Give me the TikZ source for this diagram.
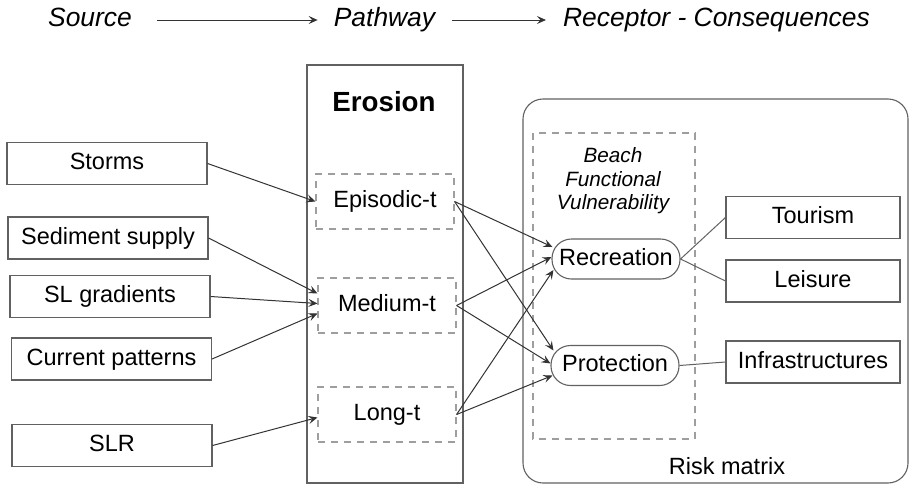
\documentclass[tikz,border=0pt]{standalone}
\usepackage{fontspec}
\setmainfont{Liberation Sans}
\usepackage{tikz}
\usetikzlibrary{arrows.meta}

\colorlet{boxgray}{black!62}
\colorlet{dashgray}{black!38}
\colorlet{arrgray}{black!80}

\tikzset{
	txt/.style={font=\fontsize{23.5}{28}\selectfont, text height=17pt, text depth=5pt, inner sep=0pt},
	srcbox/.style={txt, draw=boxgray, line width=1.1pt, minimum width=200pt, minimum height=42pt},
	termbox/.style={txt, draw=dashgray, line width=1.1pt, dash pattern=on 7pt off 6pt, minimum width=138pt, minimum height=55pt},
	funcpill/.style={txt, draw=boxgray, line width=1.1pt, rounded corners=19.5pt, minimum width=128pt, minimum height=40pt},
	conbox/.style={txt, draw=boxgray, line width=1.1pt, minimum width=174pt, minimum height=42pt},
	head/.style={font=\fontsize{26.4}{30}\selectfont\itshape, text height=19pt, text depth=6pt, inner sep=0pt},
	arr/.style={draw=arrgray, line width=1pt, -{Stealth[length=9pt, width=8pt, inset=3.5pt]}},
	lnk/.style={draw=boxgray, line width=1pt}
}

\begin{document}
\begin{tikzpicture}[x=1pt, y=-1pt]
			\useasboundingbox (0,0) rectangle (910,485);
			% heading
			\node[head] (src) at (90,20) {Source};
			\node[head] (pth) at (384.5,20) {Pathway};
			\node[head] (rcp) at (716.5,20) {Receptor - Consequences};
			\draw[arr, shorten <=25pt, shorten >=16pt] (src.east) -- (pth.west);
			\draw[arr, shorten <=17pt, shorten >=17pt] (pth.east) -- (rcp.west);
			% sources
			\node[srcbox] (storm) at (107,163.5) {Storms};
			\node[srcbox] (sedi) at (108,238) {Sediment supply};
			\node[srcbox] (slgr) at (110,296.5) {SL gradients};
			\node[srcbox] (curr) at (111.5,359) {Current patterns};
			\node[srcbox] (slr) at (112,445.5) {SLR};
			% pathway
			\node[draw=boxgray, line width=1.1pt, minimum width=156pt, minimum height=418pt] (ero) at (385,274) {};
			\node[txt, font=\fontsize{27.7}{32}\selectfont\bfseries] (erot) at (384,105) {Erosion};
			\node[termbox] (epi) at (385,201.5) {Episodic-t};
			\node[termbox] (med) at (387,305.5) {Medium-t};
			\node[termbox] (lng) at (387,414.5) {Long-t};
			% receptor
			\draw[boxgray, line width=1.1pt, rounded corners=20pt] (523,99) rectangle (908,483);
			\draw[dashgray, line width=1.1pt, dash pattern=on 7pt off 6pt] (533,133) rectangle (695,439);
			\node[font=\fontsize{20.7}{23.5}\selectfont\itshape, align=center, inner sep=0pt] (bfv) at (613,181) {Beach\\Functional\\Vulnerability};
			\node[funcpill] (recr) at (616,259) {Recreation};
			\node[funcpill] (prot) at (615,365.5) {Protection};
			\node[conbox] (tour) at (813,217.5) {Tourism};
			\node[conbox] (leis) at (813,281) {Leisure};
			\node[conbox] (infr) at (813,362) {Infrastructures};
			\node[txt] (risk) at (727,468) {Risk matrix};
			% source -> pathway
			\draw[arr] (storm.east) -- (epi.west);
			\draw[arr] (sedi.east) -- ([yshift=12pt]med.west);
			\draw[arr] (slgr.east) -- ([yshift=2pt]med.west);
			\draw[arr] (curr.east) -- ([yshift=-8pt]med.west);
			\draw[arr] (slr.east) -- ([yshift=-3pt]lng.west);
			% pathway -> receptor
			\draw[arr] (epi.east) -- ([yshift=12pt, xshift=1pt]recr.west);
			\draw[arr] (med.east) -- ([yshift=2pt]recr.west);
			\draw[arr] (lng.east) -- ([yshift=-11pt, xshift=2pt]recr.west);
			\draw[arr] (epi.east) -- ([yshift=15pt, xshift=3pt]prot.west);
			\draw[arr] (med.east) -- ([yshift=2pt]prot.west);
			\draw[arr] (lng.east) -- ([yshift=-10pt, xshift=2pt]prot.west);
			% consequences
			\draw[lnk] (recr.east) -- (tour.west);
			\draw[lnk] (recr.east) -- (leis.west);
			\draw[lnk] (prot.east) -- (infr.west);
		\end{tikzpicture}
\end{document}
